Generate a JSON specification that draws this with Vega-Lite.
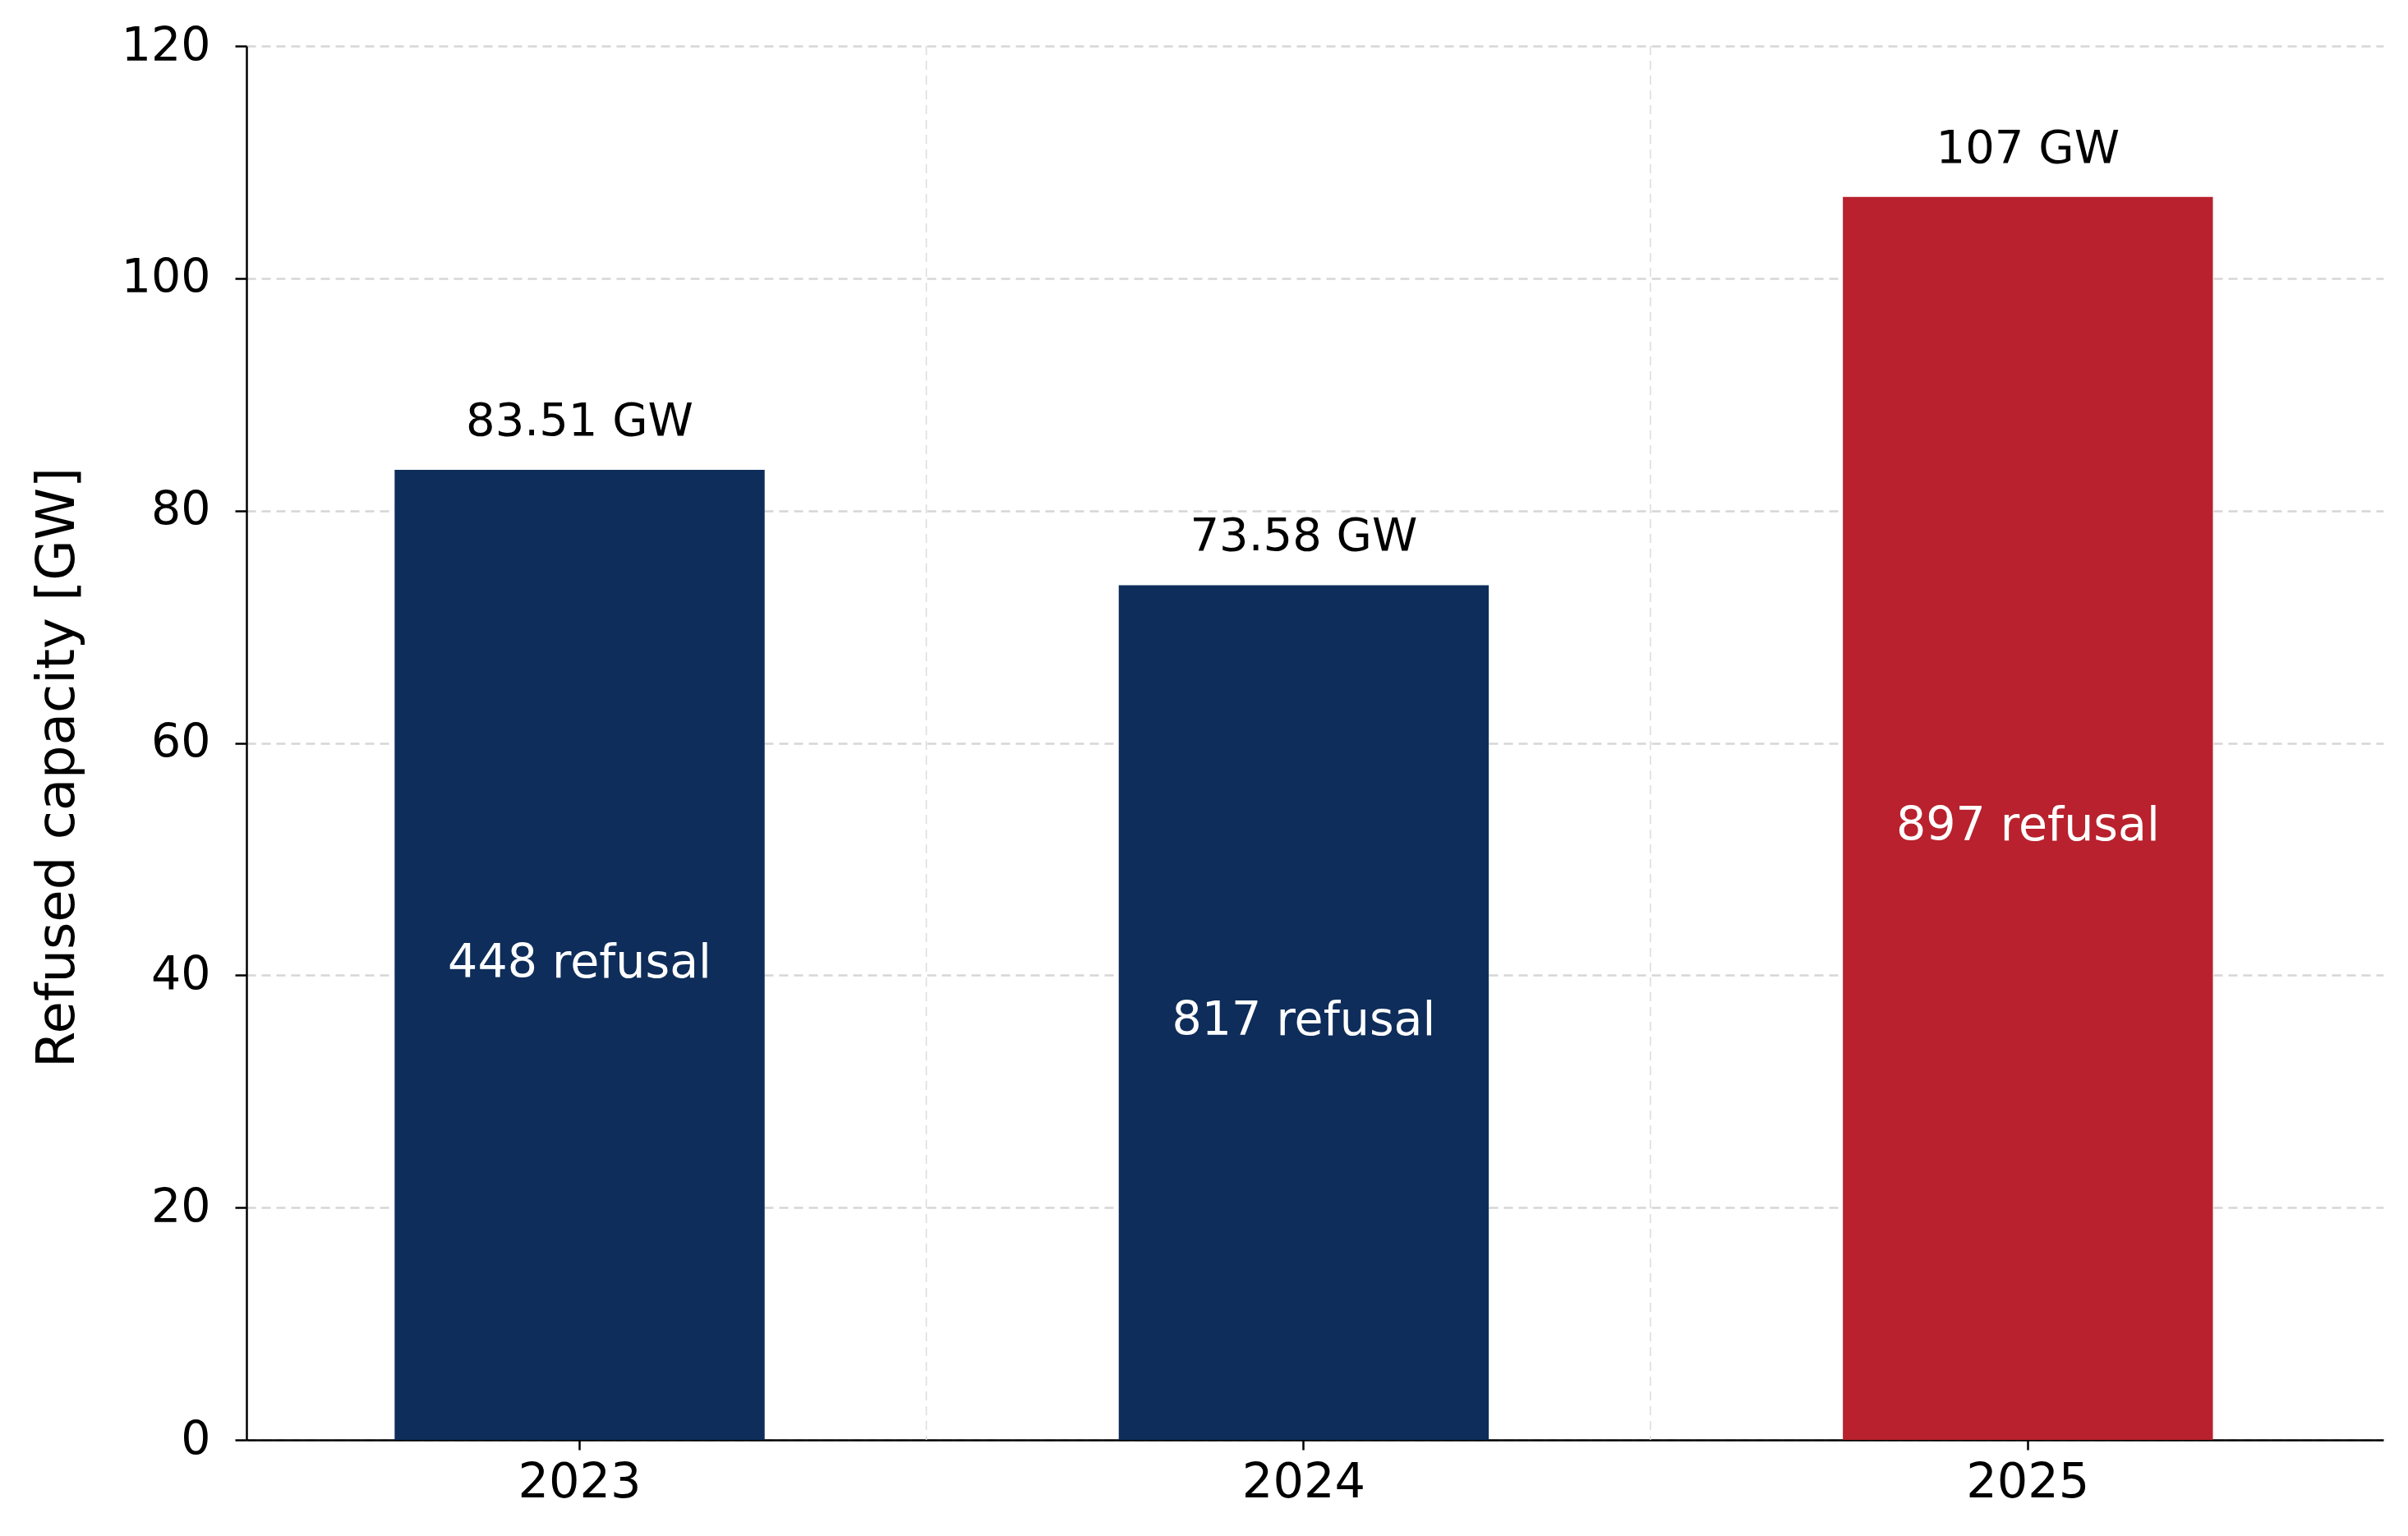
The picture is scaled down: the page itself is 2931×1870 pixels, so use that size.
{
  "$schema": "https://vega.github.io/schema/vega-lite/v6.json",
  "width": 2601,
  "height": 1697,
  "autosize": {"type": "none"},
  "padding": {"left": 300, "top": 56, "right": 30, "bottom": 117},
  "background": "white",

  "data": {
    "values": [
      {"year": "2023", "capacity": 83.51, "capacity_label": "83.51 GW", "refusal_label": "448 refusal"},
      {"year": "2024", "capacity": 73.58, "capacity_label": "73.58 GW", "refusal_label": "817 refusal"},
      {"year": "2025", "capacity": 107, "capacity_label": "107 GW", "refusal_label": "897 refusal"}
    ]
  },

  "layer": [
    {
      "transform": [{"filter": "datum.year != '2023'"}],
      "mark": {"type": "rule", "color": "#dcdcdc", "strokeWidth": 1.5, "strokeDash": [11, 7]},
      "encoding": {
        "x": {
          "field": "year",
          "type": "ordinal",
          "title": null,
          "bandPosition": -0.52,
          "scale": {"paddingInner": 0.489, "paddingOuter": 0.22, "align": 0.465},
          "axis": {"labelAngle": 0, "labelFontSize": 59, "tickSize": 12, "labelPadding": 10, "grid": false}
        }
      }
    },
    {
      "mark": {"type": "bar"},
      "encoding": {
        "x": {
          "field": "year",
          "type": "ordinal",
          "title": null,
          "scale": {"paddingInner": 0.489, "paddingOuter": 0.22, "align": 0.465},
          "axis": {"labelAngle": 0, "labelFontSize": 59, "tickSize": 12, "labelPadding": 10, "grid": false}
        },
        "y": {
          "field": "capacity",
          "type": "quantitative",
          "title": "Refused capacity [GW]",
          "scale": {"domain": [0, 120], "nice": false},
          "axis": {
            "values": [0, 20, 40, 60, 80, 100, 120],
            "labelFontSize": 57,
            "tickSize": 14,
            "labelPadding": 30,
            "grid": true,
            "gridColor": "#d6d6d6",
            "gridDash": [11, 7],
            "gridWidth": 2.5,
            "titleFontSize": 64,
            "titlePadding": 45,
            "titleY": 878
          }
        },
        "color": {
          "field": "year",
          "type": "nominal",
          "scale": {"domain": ["2023", "2024", "2025"], "range": ["#0e2d5a", "#0e2d5a", "#b8212d"]},
          "legend": null
        }
      }
    },
    {
      "mark": {"type": "text", "fontSize": 56, "baseline": "alphabetic", "dy": -42, "color": "black"},
      "encoding": {
        "x": {
          "field": "year",
          "type": "ordinal",
          "title": null,
          "axis": {"labelAngle": 0, "labelFontSize": 59, "tickSize": 12, "labelPadding": 10, "grid": false}
        },
        "y": {"field": "capacity", "type": "quantitative", "scale": {"domain": [0, 120], "nice": false}, "axis": null},
        "text": {"field": "capacity_label"}
      }
    },
    {
      "mark": {"type": "text", "fontSize": 57, "baseline": "middle", "dy": 10, "color": "white"},
      "encoding": {
        "x": {
          "field": "year",
          "type": "ordinal",
          "title": null,
          "axis": {"labelAngle": 0, "labelFontSize": 59, "tickSize": 12, "labelPadding": 10, "grid": false}
        },
        "y": {"field": "capacity", "type": "quantitative", "scale": {"domain": [0, 240], "nice": false}, "axis": null},
        "text": {"field": "refusal_label"}
      }
    }
  ],

  "resolve": {"scale": {"y": "independent"}},

  "config": {
    "font": "DejaVu Sans",
    "view": {"stroke": null},
    "axisX": {"labelAngle": 0},
    "axis": {
      "domainColor": "black",
      "domainWidth": 2.5,
      "tickColor": "black",
      "tickWidth": 2.5,
      "labelColor": "black",
      "labelFont": "DejaVu Sans",
      "titleFont": "DejaVu Sans",
      "titleFontWeight": "normal",
      "titleColor": "black"
    }
  }
}
